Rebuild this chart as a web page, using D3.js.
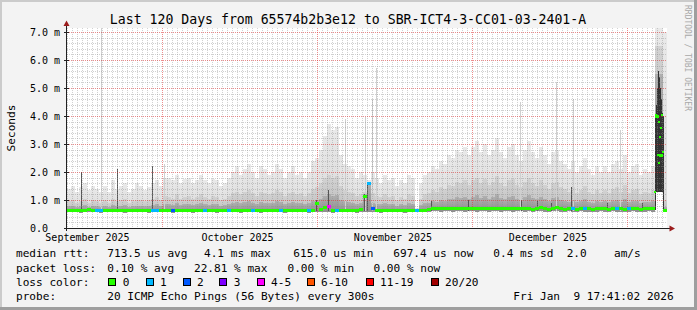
<!DOCTYPE html>
<html>
<head>
<meta charset="utf-8">
<script src="https://cdn.jsdelivr.net/npm/d3@7"></script>
<style>
body { margin: 0; background: #f3f3f3; }
svg { display: block; }
text { font-family: "DejaVu Sans Mono", monospace; white-space: pre; }
</style>
</head>
<body>
<svg id="chart" width="697" height="310"></svg>
<script>
// 150 columns, each 0.8 day wide, values in ms
const colDays = 0.8;

const medianRtt = [
  0.64,0.65,0.66,0.64,0.65,0.67,0.65,0.64,0.66,0.65,
  0.64,0.65,0.65,0.66,0.64,0.65,0.66,0.65,0.64,0.65,
  0.66,0.65,0.64,0.65,0.66,0.65,0.64,0.65,0.65,0.66,
  0.65,0.64,0.65,0.66,0.65,0.65,0.64,0.66,0.65,0.65,
  0.66,0.65,0.64,0.65,0.66,0.65,0.65,0.64,0.66,0.65,
  0.65,0.66,0.64,0.65,0.65,0.66,0.65,0.64,0.65,0.66,
  0.65,0.66,0.9,0.67,0.75,0.78,0.66,0.65,0.66,0.65,
  0.66,0.65,0.66,0.67,1.14,1.6,0.7,0.66,0.65,0.66,
  0.65,0.66,0.65,0.64,0.65,0.66,0.65,0.64,0.65,0.66,
  0.67,0.72,0.71,0.7,0.72,0.71,0.72,0.7,0.71,0.72,
  0.71,0.7,0.72,0.71,0.7,0.71,0.72,0.71,0.7,0.72,
  0.71,0.7,0.71,0.72,0.7,0.71,0.69,0.71,0.74,0.7,
  0.68,0.72,0.74,0.7,0.69,0.71,0.7,0.69,0.71,0.7,
  0.7,0.69,0.7,0.71,0.7,0.69,0.71,0.7,0.7,0.69,
  0.7,0.71,0.7,0.69,0.7,0.71,0.7,4.0,2.6,0.66
];

const minRtt = [
  0.56,0.57,0.56,0.55,0.56,0.57,0.56,0.56,0.55,0.56,
  0.56,0.56,0.57,0.56,0.55,0.56,0.56,0.57,0.56,0.56,
  0.55,0.56,0.56,0.57,0.56,0.56,0.55,0.56,0.56,0.57,
  0.56,0.55,0.56,0.56,0.57,0.56,0.56,0.55,0.56,0.56,
  0.57,0.56,0.56,0.55,0.56,0.56,0.57,0.56,0.55,0.56,
  0.56,0.57,0.56,0.56,0.55,0.56,0.56,0.57,0.56,0.56,
  0.55,0.56,0.56,0.57,0.56,0.56,0.55,0.56,0.56,0.57,
  0.56,0.56,0.55,0.56,0.57,0.56,0.56,0.56,0.55,0.56,
  0.56,0.57,0.56,0.56,0.55,0.56,0.56,0.56,0.57,0.56,
  0.58,0.59,0.59,0.58,0.59,0.59,0.58,0.59,0.59,0.58,
  0.59,0.59,0.58,0.59,0.59,0.58,0.59,0.59,0.58,0.59,
  0.59,0.58,0.59,0.59,0.58,0.59,0.57,0.59,0.59,0.58,
  0.57,0.59,0.59,0.58,0.57,0.59,0.58,0.57,0.59,0.58,
  0.58,0.57,0.58,0.59,0.58,0.57,0.59,0.58,0.58,0.57,
  0.58,0.59,0.58,0.57,0.58,0.59,0.58,1.3,1.3,0.57
];

// outer smoke (slowest ping)
const topRtt = [
  1.4,1.5,1.3,1.45,1.6,1.35,1.5,1.4,1.3,1.5,
  1.3,1.7,1.4,1.5,1.6,1.3,1.4,1.6,1.5,1.35,
  1.45,1.6,1.7,1.5,1.8,1.8,1.7,1.9,1.6,1.75,
  1.8,1.6,1.7,1.9,1.7,1.6,1.75,1.7,1.5,1.6,
  1.8,2.0,2.2,1.9,2.1,2.3,2.0,1.8,2.2,2.1,
  1.9,2.0,2.3,2.1,1.8,2.0,2.2,1.9,2.0,1.8,
  2.0,2.4,2.5,2.8,3.3,3.7,3.5,3.6,2.6,2.3,
  2.2,2.1,1.8,2.0,1.9,1.7,2.0,1.8,1.6,1.9,
  1.7,1.8,1.5,1.7,1.6,1.9,1.8,0.7,1.6,1.9,
  2.0,2.2,2.1,2.4,2.3,2.6,2.5,2.8,2.7,2.9,
  2.6,2.9,3.1,2.7,3.0,2.6,2.8,3.2,2.7,2.5,
  2.9,3.0,2.6,2.4,2.8,3.1,2.7,2.5,2.9,2.6,
  2.3,2.7,2.8,2.4,2.3,2.1,2.4,2.0,2.2,2.5,
  2.1,1.9,2.2,2.0,2.2,2.0,2.3,2.4,2.1,2.6,
  2.0,2.2,2.3,1.9,2.1,2.0,2.2,7.14,7.14,7.0
];

// middle smoke band
const midRtt = [
  0.95,1.0,0.9,0.95,1.05,0.9,1.0,0.95,0.9,1.0,
  0.9,1.05,0.95,1.0,1.05,0.9,0.95,1.0,1.0,0.95,
  1.0,1.05,1.1,1.0,1.15,1.1,1.05,1.2,1.05,1.1,
  1.15,1.05,1.1,1.2,1.1,1.05,1.15,1.1,1.0,1.05,
  1.15,1.25,1.3,1.2,1.3,1.35,1.25,1.15,1.3,1.25,
  1.2,1.25,1.35,1.3,1.15,1.25,1.3,1.2,1.25,1.15,
  1.25,1.4,1.45,1.6,1.8,1.9,1.8,1.85,1.5,1.35,
  1.3,1.25,1.15,1.2,1.3,1.6,1.25,1.15,1.1,1.2,
  1.1,1.15,1.0,1.1,1.05,1.2,1.15,0.68,1.05,1.2,
  1.25,1.35,1.3,1.45,1.4,1.55,1.5,1.65,1.6,1.7,
  1.55,1.7,1.8,1.6,1.75,1.55,1.65,1.85,1.6,1.5,
  1.7,1.75,1.55,1.45,1.65,1.8,1.6,1.5,1.7,1.55,
  1.4,1.6,1.65,1.45,1.4,1.3,1.45,1.25,1.35,1.5,
  1.3,1.2,1.35,1.25,1.35,1.25,1.4,1.45,1.3,1.55,
  1.25,1.35,1.4,1.2,1.3,1.25,1.35,6.5,6.5,1.0
];

// inner smoke band
const innerRtt = [
  0.78,0.8,0.75,0.78,0.82,0.76,0.8,0.78,0.76,0.8,
  0.76,0.82,0.78,0.8,0.82,0.76,0.78,0.8,0.8,0.78,
  0.8,0.82,0.85,0.8,0.86,0.85,0.82,0.88,0.82,0.85,
  0.86,0.82,0.85,0.88,0.85,0.82,0.86,0.85,0.8,0.82,
  0.86,0.9,0.92,0.88,0.92,0.95,0.9,0.86,0.92,0.9,
  0.88,0.9,0.95,0.92,0.86,0.9,0.92,0.88,0.9,0.86,
  0.9,0.98,1.0,1.05,1.15,1.2,1.15,1.18,1.0,0.95,
  0.92,0.9,0.86,0.88,1.2,1.6,0.9,0.86,0.84,0.88,
  0.84,0.86,0.8,0.84,0.82,0.88,0.86,0.66,0.82,0.88,
  0.9,0.95,0.93,1.0,0.98,1.05,1.02,1.1,1.08,1.12,
  1.05,1.12,1.18,1.08,1.15,1.05,1.1,1.2,1.08,1.02,
  1.12,1.15,1.05,1.0,1.1,1.18,1.08,1.02,1.12,1.05,
  0.98,1.08,1.1,1.0,0.98,0.94,1.0,0.92,0.96,1.02,
  0.94,0.9,0.96,0.92,0.96,0.92,0.98,1.0,0.94,1.05,
  0.92,0.96,0.98,0.9,0.94,0.92,0.96,5.5,5.5,0.75
];

// columns with lost pings (index into the columns above) and how many were lost
const lossCols  = [7, 8, 21, 22, 26, 34, 40, 46, 53, 60, 65, 67, 75, 76, 87, 126, 129, 137, 140];
const lossCount = [1, 1, 1,  1,  2,  1,  1,  1,  1,  1,  4,  1,  1,  2,  1,  1,   1,   1,   1];

// thin single-sample streaks (day, top in ms, 1 = dark)
const streakDays = [2.8, 6.8, 10.0, 17.0, 19.4, 49.8, 52.2, 55.6, 59.4, 59.6, 60.0, 61.0, 61.8,
                    72.8, 80.2, 90.6, 90.8, 94.0, 96.8, 97.8, 100.8, 101.2, 108.0, 110.6, 115.0];
const streakTops = [2.0, 7.14, 2.1, 2.2, 2.3, 1.0, 1.35, 3.9, 1.2, 3.96, 1.6, 4.6, 5.7,
                    0.95, 1.0, 4.5, 1.0, 0.95, 0.9, 5.2, 1.45, 4.6, 0.9, 3.5, 0.9];
const streakDark = [1, 0, 1, 1, 0, 1, 1, 0, 1, 0, 1, 0, 0,
                    1, 1, 0, 1, 1, 1, 0, 1, 0, 1, 0, 1];

// the outage spike at the end
const spikeDays  = [117.6, 117.8, 118.0, 118.2, 118.4, 118.6, 118.8, 119.0, 119.2];
const spikeBases = [0.66, 1.3, 1.3, 1.3, 1.3, 1.3, 1.3, 1.3, 0.68];
const spikeTops  = [4.0, 4.4, 5.0, 5.6, 5.4, 5.0, 4.6, 4.1, 4.0];
const spikeDotDays = [117.6, 117.8, 118.2, 118.4, 118.4, 118.6, 118.8, 119.0, 119.2];
const spikeDotVals = [1.29, 4.04, 2.61, 3.79, 2.32, 3.25, 3.57, 4.04, 2.71];

// axis
const yTicks = [0, 1, 2, 3, 4, 5, 6, 7];
const yTickLabels = ["0.0", "1.0 m", "2.0 m", "3.0 m", "4.0 m", "5.0 m", "6.0 m", "7.0 m"];
const majorGridDays = [19.1, 50.1, 81.1, 112.1];
const monthLabelDays = [4.1, 34.1, 65.2, 96.2];
const monthLabels = ["September 2025", "October 2025", "November 2025", "December 2025"];

// legend
const lossLabels = ["0", "1", "2", "3", "4-5", "6-10", "11-19", "20/20"];
const lossColors = ["#26ff00", "#00b8ff", "#0059ff", "#7e00ff", "#ff00ff", "#ff5500", "#ff0000", "#a10000"];
const lossBins = [0, 1, 2, 3, 5, 10, 19, 20];

const svg = d3.select('#chart');
const x = d3.scaleLinear().domain([0, 120]).range([67, 667]);
const y = d3.scaleLinear().domain([0, 200 / 28]).range([228, 28]);
const colW = x(colDays) - x(0);

// soft vertical shading inside each smoke band
const defs = svg.append('defs');
const shades = [
  { id: 'gTop', top: '#e9e9e9', bottom: '#d9d9d9' },
  { id: 'gMid', top: '#d2d2d2', bottom: '#bcbcbc' },
  { id: 'gIn',  top: '#b0b0b0', bottom: '#8e8e8e' }
];
shades.forEach(s => {
  const g = defs.append('linearGradient').attr('id', s.id).attr('x1', 0).attr('x2', 0).attr('y1', 0).attr('y2', 1);
  g.append('stop').attr('offset', 0).attr('stop-color', s.top);
  g.append('stop').attr('offset', 1).attr('stop-color', s.bottom);
});

// background and 3d frame
svg.append('rect').attr('width', 697).attr('height', 310).attr('fill', '#f3f3f3');
svg.append('rect').attr('width', 697).attr('height', 2).attr('fill', '#cbcbcb');
svg.append('rect').attr('width', 2).attr('height', 310).attr('fill', '#cbcbcb');
svg.append('rect').attr('y', 307).attr('width', 697).attr('height', 3).attr('fill', '#9e9e9e');
svg.append('rect').attr('x', 694).attr('width', 3).attr('height', 310).attr('fill', '#9e9e9e');

// canvas
svg.append('rect').attr('x', x(0)).attr('y', y.range()[1])
   .attr('width', x(120) - x(0)).attr('height', y(0) - y.range()[1]).attr('fill', '#ffffff');

// smoke
const bands = [
  { vals: topRtt, fill: 'url(#gTop)' },
  { vals: midRtt, fill: 'url(#gMid)' },
  { vals: innerRtt, fill: 'url(#gIn)' }
];
bands.forEach(b => {
  svg.append('g').attr('shape-rendering', 'crispEdges')
    .selectAll('rect').data(b.vals).join('rect')
    .attr('x', (d, i) => x(i * colDays))
    .attr('width', colW)
    .attr('y', d => y(d))
    .attr('height', (d, i) => Math.max(0, y(minRtt[i]) - y(d)))
    .attr('fill', b.fill);
});

// streaks
svg.append('g').attr('shape-rendering', 'crispEdges')
  .selectAll('line').data(streakDays).join('line')
  .attr('x1', d => Math.round(x(d)) + 0.5).attr('x2', d => Math.round(x(d)) + 0.5)
  .attr('y1', y(0.62)).attr('y2', (d, i) => y(streakTops[i]))
  .attr('stroke', (d, i) => streakDark[i] ? '#555' : '#cfcfcf');

svg.append('g').attr('shape-rendering', 'crispEdges')
  .selectAll('line').data(spikeDays).join('line')
  .attr('x1', d => Math.round(x(d)) + 0.5).attr('x2', d => Math.round(x(d)) + 0.5)
  .attr('y1', (d, i) => y(spikeBases[i])).attr('y2', (d, i) => y(spikeTops[i]))
  .attr('stroke', '#333');

// grid
const grid = svg.append('g').attr('shape-rendering', 'crispEdges');
const minorY = d3.range(1, 36).filter(k => k % 5 !== 0).map(k => k * 0.2);
const majorY = yTicks.filter(v => v > 0);
const minorX = d3.range(0, 120).map(k => k + 0.1).filter(d => !majorGridDays.some(m => Math.abs(m - d) < 0.01));
grid.selectAll('.hmin').data(minorY).join('line')
  .attr('x1', x(0)).attr('x2', x(120))
  .attr('y1', d => Math.round(y(d)) + 0.5).attr('y2', d => Math.round(y(d)) + 0.5)
  .attr('stroke', 'rgba(140,140,140,0.4)').attr('stroke-dasharray', '1,1');
grid.selectAll('.vmin').data(minorX).join('line')
  .attr('y1', y.range()[1]).attr('y2', y(0))
  .attr('x1', d => Math.floor(x(d)) + 0.5).attr('x2', d => Math.floor(x(d)) + 0.5)
  .attr('stroke', 'rgba(140,140,140,0.4)').attr('stroke-dasharray', '1,1');
grid.selectAll('.hmaj').data(majorY).join('line')
  .attr('x1', x(0)).attr('x2', x(120))
  .attr('y1', d => Math.round(y(d)) + 0.5).attr('y2', d => Math.round(y(d)) + 0.5)
  .attr('stroke', 'rgba(220,50,50,0.55)').attr('stroke-dasharray', '1,1');
grid.selectAll('.vmaj').data(majorGridDays).join('line')
  .attr('y1', y.range()[1]).attr('y2', y(0))
  .attr('x1', d => Math.floor(x(d)) + 0.5).attr('x2', d => Math.floor(x(d)) + 0.5)
  .attr('stroke', 'rgba(220,50,50,0.55)').attr('stroke-dasharray', '1,1');

// median line coloured by loss
function lossColor(n) {
  for (let k = 0; k < lossBins.length; k++) if (n <= lossBins[k]) return lossColors[k];
  return lossColors[lossColors.length - 1];
}
svg.append('g').attr('shape-rendering', 'crispEdges')
  .selectAll('rect').data(medianRtt).join('rect')
  .attr('x', (d, i) => x(i * colDays))
  .attr('width', colW)
  .attr('y', d => Math.round(y(d)) - 1)
  .attr('height', 3)
  .attr('fill', (d, i) => {
    const k = lossCols.indexOf(i);
    return lossColor(k < 0 ? 0 : lossCount[k]);
  });
svg.append('g').selectAll('rect').data(spikeDotDays).join('rect')
  .attr('x', d => Math.round(x(d)) - 1).attr('y', (d, i) => Math.round(y(spikeDotVals[i])) - 1)
  .attr('width', 2).attr('height', 2).attr('fill', lossColors[0]);

// axes
const ax = svg.append('g').attr('shape-rendering', 'crispEdges');
ax.append('line').attr('x1', 66.5).attr('x2', 66.5).attr('y1', 231).attr('y2', 25).attr('stroke', '#222');
ax.append('line').attr('x1', 64).attr('x2', 670).attr('y1', 228.5).attr('y2', 228.5).attr('stroke', '#222');
ax.selectAll('.yt').data(yTicks).join('line')
  .attr('x1', 64).attr('x2', 69)
  .attr('y1', d => Math.round(y(d)) + 0.5).attr('y2', d => Math.round(y(d)) + 0.5)
  .attr('stroke', '#222');
svg.append('path').attr('d', 'M66.5,20.5 L63.5,26 L69.5,26 Z').attr('fill', '#9b1c1c');
svg.append('path').attr('d', 'M675,228.5 L669.5,225.5 L669.5,231.5 Z').attr('fill', '#9b1c1c');

// y labels
svg.append('g').selectAll('text').data(yTicks).join('text')
  .attr('x', 30).attr('y', d => y(d) + 3.5)
  .attr('font-size', '10px').attr('fill', '#000')
  .text((d, i) => yTickLabels[i]);

// month labels
svg.append('g').selectAll('text').data(monthLabelDays).join('text')
  .attr('x', d => x(d)).attr('y', 240.5)
  .attr('text-anchor', 'middle').attr('font-size', '10px')
  .text((d, i) => monthLabels[i]);

// title
svg.append('text').attr('x', 348).attr('y', 24).attr('text-anchor', 'middle')
  .attr('font-size', '13.2px')
  .text('Last 120 Days from 65574b2b3e12 to SBR-ICT4-3-CC01-03-2401-A');

svg.append('text').attr('transform', 'translate(15,128) rotate(-90)')
  .attr('text-anchor', 'middle').attr('font-size', '11.1px').text('Seconds');

svg.append('text').attr('transform', 'translate(685,5) rotate(90)')
  .attr('font-size', '8px').attr('fill', '#a8a8a8').text('RRDTOOL / TOBI OETIKER');

// legend
const fs = '11.1px';
const legendRows = [
  { y: 257.3, items: [[16, 'median rtt:'], [107.3, '713.5 us avg'], [204, '4.1 ms max'], [293.3, '615.0 us min'],
                      [393.3, '697.4 us now'], [493.3, '0.4 ms sd'], [566.7, '2.0'], [614, 'am/s']] },
  { y: 271.6, items: [[16, 'packet loss:'], [107.3, '0.10 % avg'], [194, '22.81 % max'], [287.5, '0.00 % min'],
                      [373.5, '0.00 % now']] },
  { y: 285.9, items: [[16, 'loss color:']] },
  { y: 300, items: [[16, 'probe:'], [107.3, '20 ICMP Echo Pings (56 Bytes) every 300s'],
                    [513.3, 'Fri Jan  9 17:41:02 2026']] }
];
legendRows.forEach(r => {
  r.items.forEach(it => {
    svg.append('text').attr('x', it[0]).attr('y', r.y).attr('font-size', fs).text(it[1]);
  });
});

const swatchX = [108.3, 145.7, 182.7, 219.3, 256.7, 306.7, 365.7, 430.7];
const sw = svg.append('g');
lossLabels.forEach((lab, i) => {
  sw.append('rect').attr('x', Math.round(swatchX[i]) + 0.5).attr('y', 278.5)
    .attr('width', 7).attr('height', 7).attr('fill', lossColors[i])
    .attr('stroke', '#000').attr('shape-rendering', 'crispEdges');
  sw.append('text').attr('x', swatchX[i] + 14.4).attr('y', 285.9).attr('font-size', fs).text(lab);
});
</script>
</body>
</html>
